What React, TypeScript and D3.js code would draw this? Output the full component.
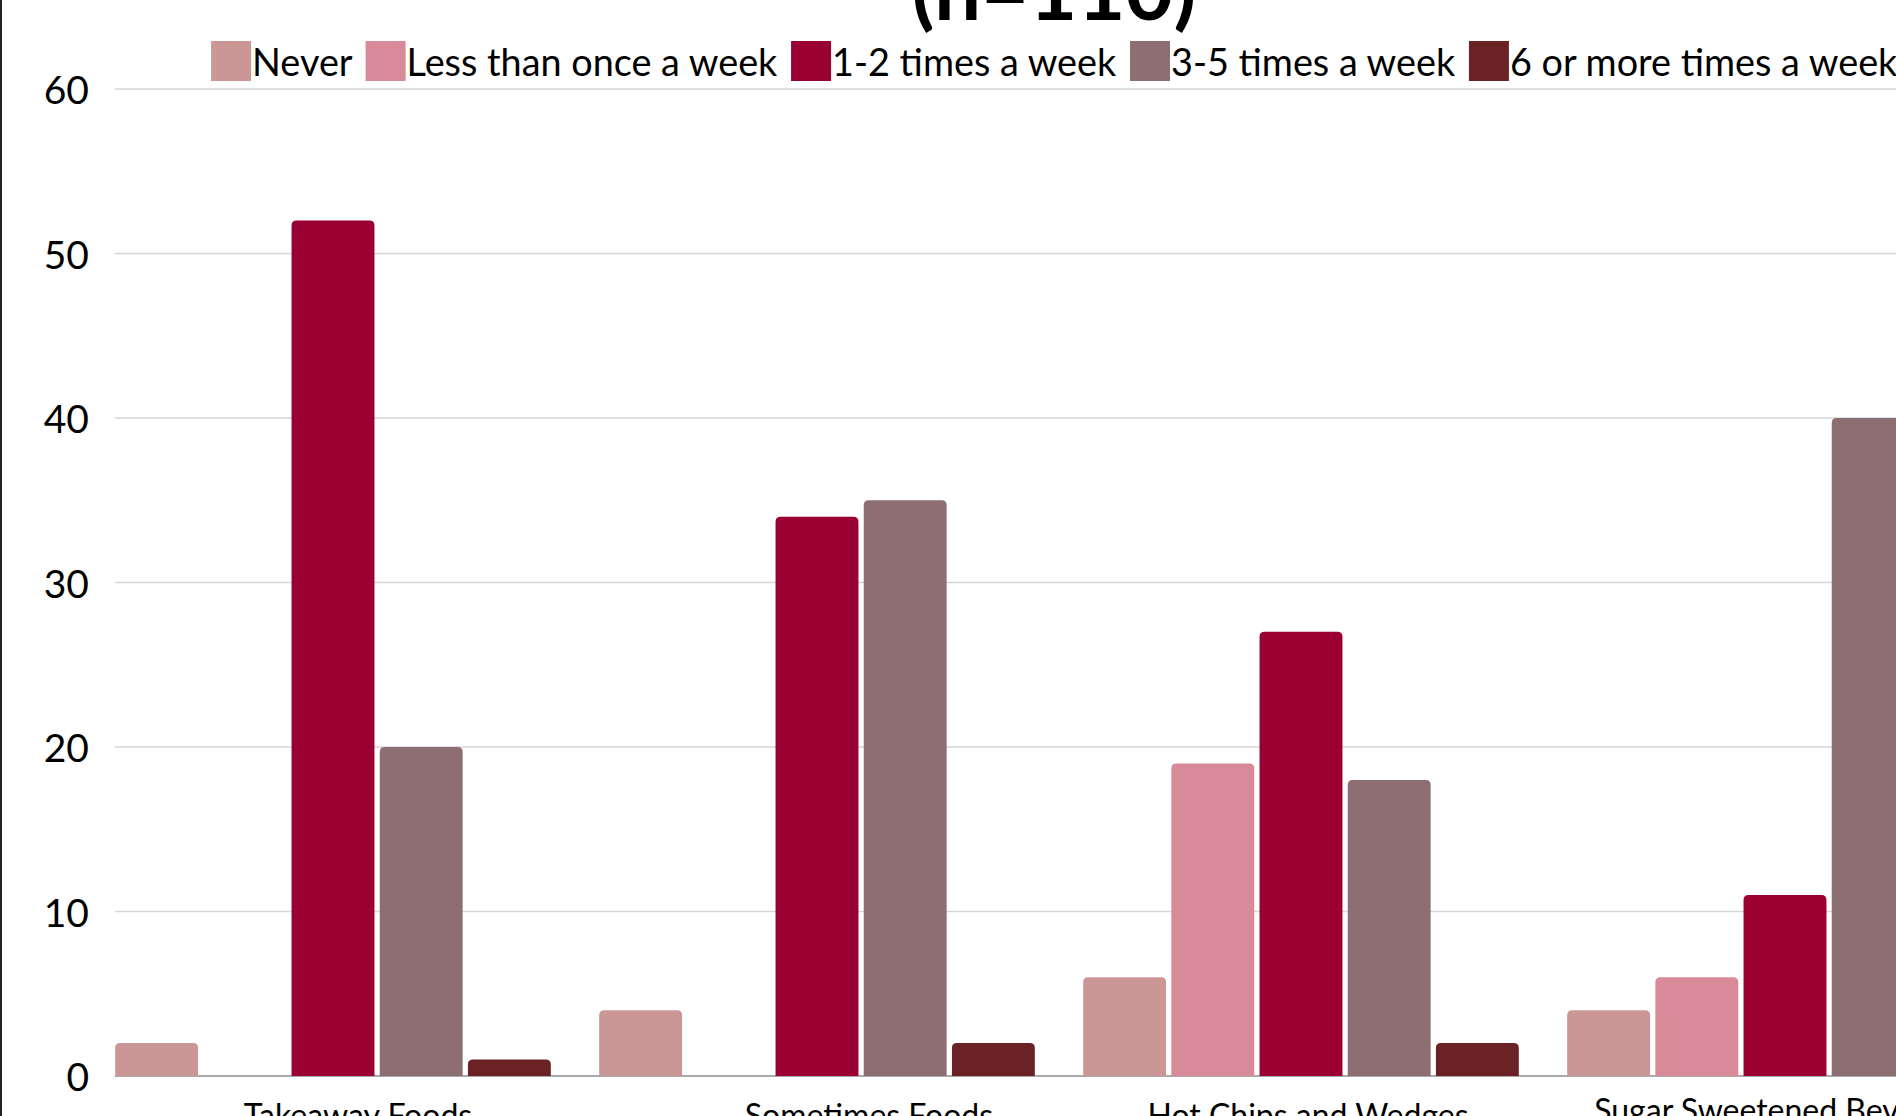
import React, { useMemo } from "react";
import * as d3 from "d3";

const categories = ["Takeaway Foods", "Sometimes Foods", "Hot Chips and Wedges", "Sugar Sweetened Beverages"];
const seriesNames = ["Never", "Less than once a week", "1-2 times a week", "3-5 times a week", "6 or more times a week"];
const never = [2, 4, 6, 4];
const lessThanOnce = [0, 0, 19, 6];
const oneToTwo = [52, 34, 27, 11];
const threeToFive = [20, 35, 18, 40];
const sixOrMore: (number | null)[] = [1, 2, 2, null];
const yTicks = [0, 10, 20, 30, 40, 50, 60];
const seriesColors = ["#CB9796", "#D98A98", "#9B0032", "#8C6E73", "#6B2224"];
const titleText = "(n=110)";

// layout (not data)
const W = 1896;
const H = 1116;
const FONT = "Lato, 'Open Sans', sans-serif";
const labelDx = [25, 52, 7, 7];
const labelDy = [0, 0, 0, -5];

function topRounded(x: number, y: number, w: number, h: number, r: number) {
  const rr = Math.min(r, h, w / 2);
  return `M${x},${y + h}V${y + rr}Q${x},${y} ${x + rr},${y}H${x + w - rr}Q${x + w},${y} ${x + w},${y + rr}V${y + h}Z`;
}

export default function App() {
  const values = [never, lessThanOnce, oneToTwo, threeToFive, sixOrMore];

  const y = d3.scaleLinear().domain([0, 60]).range([1076, 89]);
  const groupStep = 484;
  const x0 = d3.scaleBand().domain(categories).range([91, 91 + groupStep * categories.length]);
  const x1 = d3.scaleBand().domain(seriesNames).range([0, x0.bandwidth()]).paddingInner(0.06).paddingOuter(0.274);

  const legendFontSize = 37.8;
  const legend = useMemo(() => {
    const canvas = document.createElement("canvas");
    const ctx = canvas.getContext("2d")!;
    ctx.font = `${legendFontSize}px Lato`;
    const box = 40;
    const gap = 1;
    const spacing = 13;
    const widths = seriesNames.map((s) => ctx.measureText(s).width);
    const total = widths.reduce((a, b) => a + b, 0) + seriesNames.length * (box + gap) + (seriesNames.length - 1) * spacing;
    let cx = 1055 - total / 2;
    return seriesNames.map((s, i) => {
      const item = { name: s, bx: cx, tx: cx + box + gap, color: seriesColors[i] };
      cx += box + gap + widths[i] + spacing;
      return item;
    });
  }, []);

  const gridLeft = 115;

  return (
    <svg
      width={W}
      height={H}
      style={{ position: "absolute", left: 0, top: 0, background: "#fff" }}
      fontFamily={FONT}
    >
      <rect x={0} y={0} width={W} height={H} fill="#fff" />
      <rect x={0} y={0} width={2} height={H} fill="#222" />

      {/* title (mostly above view) */}
      <text x={1054} y={20} textAnchor="middle" fontSize={83} fontWeight={700} fill="#000">
        {titleText}
      </text>

      {/* legend */}
      {legend.map((l) => (
        <g key={l.name}>
          <rect x={l.bx} y={41} width={40} height={40} fill={l.color} />
          <text x={l.tx} y={61} dominantBaseline="central" fontSize={legendFontSize} fill="#000">
            {l.name}
          </text>
        </g>
      ))}

      {/* gridlines */}
      {yTicks.map((t) => (
        <line
          key={t}
          x1={gridLeft}
          x2={W}
          y1={y(t)}
          y2={y(t)}
          stroke={t === 0 ? "#aaaaaa" : "#d6d6d6"}
          strokeWidth={t === 0 ? 2 : 1.5}
        />
      ))}

      {/* y tick labels */}
      {yTicks.map((t) => (
        <text key={"l" + t} x={89} y={y(t)} textAnchor="end" dominantBaseline="central" fontSize={39} fill="#000">
          {t}
        </text>
      ))}

      {/* bars */}
      {categories.map((c, ci) => (
        <g key={c} transform={`translate(${x0(c)},0)`}>
          {seriesNames.map((s, si) => {
            const v = values[si][ci];
            if (v == null || v <= 0) return null;
            const top = y(v);
            return (
              <path
                key={s}
                d={topRounded(x1(s)!, top, x1.bandwidth(), y(0) - top, 5)}
                fill={seriesColors[si]}
              />
            );
          })}
        </g>
      ))}

      {/* x labels */}
      {categories.map((c, ci) => (
        <text
          key={"x" + c}
          x={x0(c)! + x0.bandwidth() / 2 + labelDx[ci]}
          y={1127 + labelDy[ci]}
          textAnchor="middle"
          fontSize={32}
          fill="#000"
        >
          {c}
        </text>
      ))}
    </svg>
  );
}
